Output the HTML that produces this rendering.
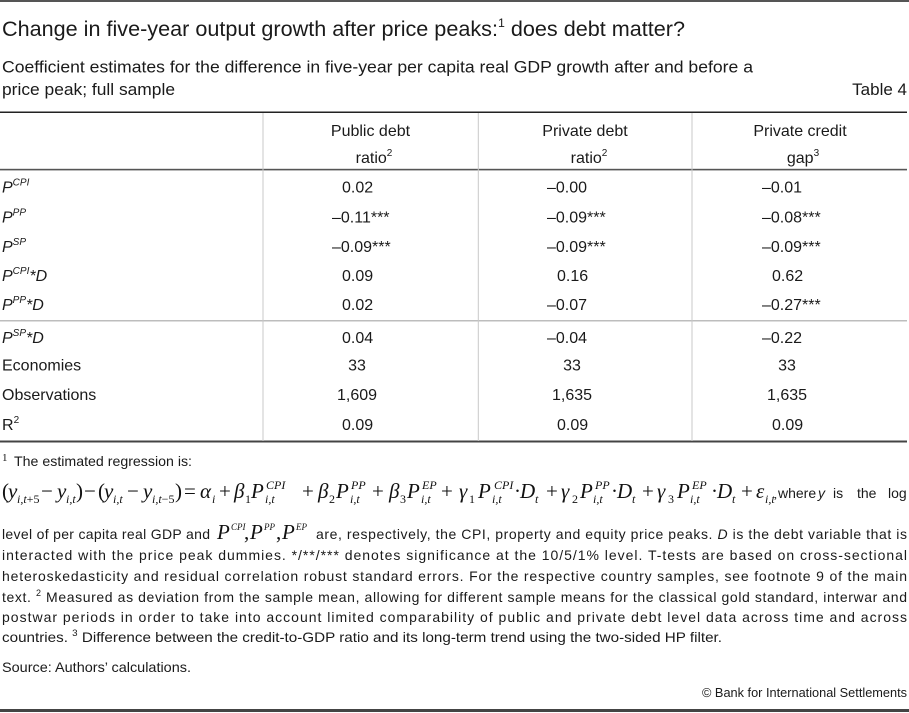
<!DOCTYPE html>
<html>
<head>
<meta charset="utf-8">
<style>
html,body{margin:0;padding:0;background:#fff;}
svg{display:block;}
.s{font-family:"Liberation Sans",sans-serif;fill:#1a1a1a;}
.m{font-family:"Liberation Serif",serif;fill:#111;}
.i{font-style:italic;}
</style>
</head>
<body>
<svg width="909" height="713" viewBox="0 0 909 713" xmlns="http://www.w3.org/2000/svg">
<!-- rules -->
<rect x="0" y="0" width="909" height="2" fill="#555"/>
<rect x="0" y="111.5" width="907" height="1.5" fill="#222"/>
<rect x="0" y="168.8" width="907" height="1.6" fill="#555"/>
<rect x="0" y="320" width="907" height="1.5" fill="#bdbdbd"/>
<rect x="0" y="440.5" width="907" height="2" fill="#444"/>
<rect x="0" y="709" width="909" height="3" fill="#444"/>
<rect x="262.5" y="113" width="1" height="328" fill="#c8c8c8"/>
<rect x="477.8" y="113" width="1" height="328" fill="#c8c8c8"/>
<rect x="691.5" y="113" width="1" height="328" fill="#c8c8c8"/>

<!-- title -->
<text class="s" x="2" y="36" font-size="21" textLength="683" lengthAdjust="spacingAndGlyphs">Change in five-year output growth after price peaks:<tspan font-size="12" dy="-9">1</tspan><tspan dy="9"> does debt matter?</tspan></text>
<text class="s" x="2" y="72.5" font-size="17" textLength="751" lengthAdjust="spacingAndGlyphs">Coefficient estimates for the difference in five-year per capita real GDP growth after and before a</text>
<text class="s" x="2" y="95" font-size="17" textLength="173" lengthAdjust="spacingAndGlyphs">price peak; full sample</text>
<text class="s" x="907" y="95" font-size="17" text-anchor="end">Table 4</text>

<!-- header -->
<g class="s" font-size="16" text-anchor="middle">
<text x="370.5" y="136">Public debt</text>
<text x="374" y="163">ratio<tspan font-size="10" dy="-7">2</tspan></text>
<text x="585" y="136">Private debt</text>
<text x="589" y="163">ratio<tspan font-size="10" dy="-7">2</tspan></text>
<text x="800" y="136">Private credit</text>
<text x="803" y="163">gap<tspan font-size="10" dy="-7">3</tspan></text>
</g>

<!-- row labels -->
<g class="s" font-size="16">
<text x="2" y="192.5" class="s i">P<tspan font-size="10" dy="-7">CPI</tspan></text>
<text x="2" y="222.5" class="s i">P<tspan font-size="10" dy="-7">PP</tspan></text>
<text x="2" y="252" class="s i">P<tspan font-size="10" dy="-7">SP</tspan></text>
<text x="2" y="281" class="s i">P<tspan font-size="10" dy="-7">CPI</tspan><tspan dy="7">*D</tspan></text>
<text x="2" y="310" class="s i">P<tspan font-size="10" dy="-7">PP</tspan><tspan dy="7">*D</tspan></text>
<text x="2" y="343" class="s i">P<tspan font-size="10" dy="-7">SP</tspan><tspan dy="7">*D</tspan></text>
<text x="2" y="370.5">Economies</text>
<text x="2" y="400">Observations</text>
<text x="2" y="430">R<tspan font-size="10" dy="-7">2</tspan></text>
</g>

<!-- values col 1 -->
<g class="s" font-size="16">
<text x="342" y="192.5">0.02</text>
<text x="332" y="222.5">–0.11***</text>
<text x="332" y="252">–0.09***</text>
<text x="342" y="281">0.09</text>
<text x="342" y="310">0.02</text>
<text x="342" y="343">0.04</text>
<text x="357" y="370.5" text-anchor="middle">33</text>
<text x="357" y="400" text-anchor="middle">1,609</text>
<text x="342" y="430">0.09</text>
<!-- col 2 -->
<text x="547" y="192.5">–0.00</text>
<text x="547" y="222.5">–0.09***</text>
<text x="547" y="252">–0.09***</text>
<text x="557" y="281">0.16</text>
<text x="547" y="310">–0.07</text>
<text x="547" y="343">–0.04</text>
<text x="572" y="370.5" text-anchor="middle">33</text>
<text x="572" y="400" text-anchor="middle">1,635</text>
<text x="557" y="430">0.09</text>
<!-- col 3 -->
<text x="762" y="192.5">–0.01</text>
<text x="762" y="222.5">–0.08***</text>
<text x="762" y="252">–0.09***</text>
<text x="772" y="281">0.62</text>
<text x="762" y="310">–0.27***</text>
<text x="762" y="343">–0.22</text>
<text x="787" y="370.5" text-anchor="middle">33</text>
<text x="787" y="400" text-anchor="middle">1,635</text>
<text x="772" y="430">0.09</text>
</g>

<!-- footnote 1 -->
<text class="m" x="2" y="461" font-size="11">1</text>
<text class="s" x="14" y="466" font-size="14" textLength="178" lengthAdjust="spacingAndGlyphs">The estimated regression is:</text>

<!-- equation -->
<g class="m" font-size="21">
<text x="2" y="498">(</text>
<text x="8" y="498" class="m i">y</text>
<text x="17" y="503" font-size="12" class="m i">i,t<tspan font-style="normal">+5</tspan></text>
<text x="41" y="498">−</text>
<text x="57" y="498" class="m i">y</text>
<text x="66" y="503" font-size="12" class="m i">i,t</text>
<text x="76" y="498">)</text>
<text x="84" y="498">−</text>
<text x="98" y="498">(</text>
<text x="104" y="498" class="m i">y</text>
<text x="113" y="503" font-size="12" class="m i">i,t</text>
<text x="127" y="498">−</text>
<text x="143" y="498" class="m i">y</text>
<text x="152" y="503" font-size="12" class="m i">i,t<tspan font-style="normal">−5</tspan></text>
<text x="175" y="498">)</text>
<text x="184" y="498">=</text>
<text x="200" y="498" class="m i">α</text>
<text x="212" y="503" font-size="12" class="m i">i</text>
<text x="219" y="498">+</text>

<text x="234" y="498" class="m i">β</text>
<text x="245" y="503" font-size="12">1</text>
<text x="251" y="498" class="m i">P</text>
<text x="266" y="489" font-size="12" class="m i">CPI</text>
<text x="265" y="503" font-size="12" class="m i">i,t</text>
<text x="302" y="498">+</text>

<text x="318" y="498" class="m i">β</text>
<text x="329" y="503" font-size="12">2</text>
<text x="336" y="498" class="m i">P</text>
<text x="351" y="489" font-size="12" class="m i">PP</text>
<text x="350" y="503" font-size="12" class="m i">i,t</text>
<text x="372" y="498">+</text>

<text x="389" y="498" class="m i">β</text>
<text x="400" y="503" font-size="12">3</text>
<text x="407" y="498" class="m i">P</text>
<text x="422" y="489" font-size="12" class="m i">EP</text>
<text x="421" y="503" font-size="12" class="m i">i,t</text>
<text x="441" y="498">+</text>

<text x="459" y="498" class="m i">γ</text>
<text x="469" y="503" font-size="12">1</text>
<text x="478" y="498" class="m i">P</text>
<text x="494" y="489" font-size="12" class="m i">CPI</text>
<text x="492" y="503" font-size="12" class="m i">i,t</text>
<text x="514" y="498">·</text>
<text x="520" y="498" class="m i">D</text>
<text x="535" y="503" font-size="12" class="m i">t</text>
<text x="546" y="498">+</text>

<text x="561" y="498" class="m i">γ</text>
<text x="572" y="503" font-size="12">2</text>
<text x="580" y="498" class="m i">P</text>
<text x="595" y="489" font-size="12" class="m i">PP</text>
<text x="593" y="503" font-size="12" class="m i">i,t</text>
<text x="611" y="498">·</text>
<text x="617" y="498" class="m i">D</text>
<text x="632" y="503" font-size="12" class="m i">t</text>
<text x="642" y="498">+</text>

<text x="657" y="498" class="m i">γ</text>
<text x="668" y="503" font-size="12">3</text>
<text x="677" y="498" class="m i">P</text>
<text x="692" y="489" font-size="12" class="m i">EP</text>
<text x="690" y="503" font-size="12" class="m i">i,t</text>
<text x="711" y="498">·</text>
<text x="717" y="498" class="m i">D</text>
<text x="732" y="503" font-size="12" class="m i">t</text>
<text x="741" y="498">+</text>

<text x="756" y="498" class="m i">ε</text>
<text x="765" y="503" font-size="12" class="m i">i,t</text>
<text x="774" y="498" font-size="12">,</text>
</g>
<g class="s" font-size="14">
<text x="778" y="498">where</text>
<text x="818" y="498" class="s i">y</text>
<text x="833" y="498">is</text>
<text x="857" y="498">the</text>
<text x="888" y="498">log</text>
</g>

<!-- footnote body -->
<text class="s" x="2" y="539" font-size="14" textLength="208" lengthAdjust="spacing">level of per capita real GDP and</text>
<g class="m" font-size="21">
<text x="217" y="539" class="m i">P</text>
<text x="231" y="530" font-size="9" class="m i">CPI</text>
<text x="244" y="539">,</text>
<text x="250" y="539" class="m i">P</text>
<text x="264" y="530" font-size="9" class="m i">PP</text>
<text x="276" y="539">,</text>
<text x="282" y="539" class="m i">P</text>
<text x="296" y="530" font-size="9" class="m i">EP</text>
</g>
<text class="s" x="316" y="539" font-size="14" textLength="591" lengthAdjust="spacing">are, respectively, the CPI, property and equity price peaks. <tspan font-style="italic">D</tspan> is the debt variable that is</text>
<text class="s" x="2" y="560" font-size="14" textLength="905" lengthAdjust="spacing">interacted with the price peak dummies. */**/*** denotes significance at the 10/5/1% level. T-tests are based on cross-sectional</text>
<text class="s" x="2" y="581" font-size="14" textLength="905" lengthAdjust="spacing">heteroskedasticity and residual correlation robust standard errors. For the respective country samples, see footnote 9 of the main</text>
<text class="s" x="2" y="602" font-size="14" textLength="905" lengthAdjust="spacing">text.   <tspan font-size="9" dy="-6">2</tspan><tspan dy="6"> Measured as deviation from the sample mean, allowing for different sample means for the classical gold standard, interwar and</tspan></text>
<text class="s" x="2" y="622" font-size="14" textLength="905" lengthAdjust="spacing">postwar periods in order to take into account limited comparability of public and private debt level data across time and across</text>
<text class="s" x="2" y="642" font-size="14" textLength="720" lengthAdjust="spacingAndGlyphs">countries.    <tspan font-size="9" dy="-6">3</tspan><tspan dy="6"> Difference between the credit-to-GDP ratio and its long-term trend using the two-sided HP filter.</tspan></text>

<text class="s" x="2" y="672" font-size="14" textLength="189" lengthAdjust="spacingAndGlyphs">Source: Authors’ calculations.</text>
<text class="s" x="907" y="697" font-size="12.5" text-anchor="end" textLength="205" lengthAdjust="spacingAndGlyphs">© Bank for International Settlements</text>
</svg>
</body>
</html>
